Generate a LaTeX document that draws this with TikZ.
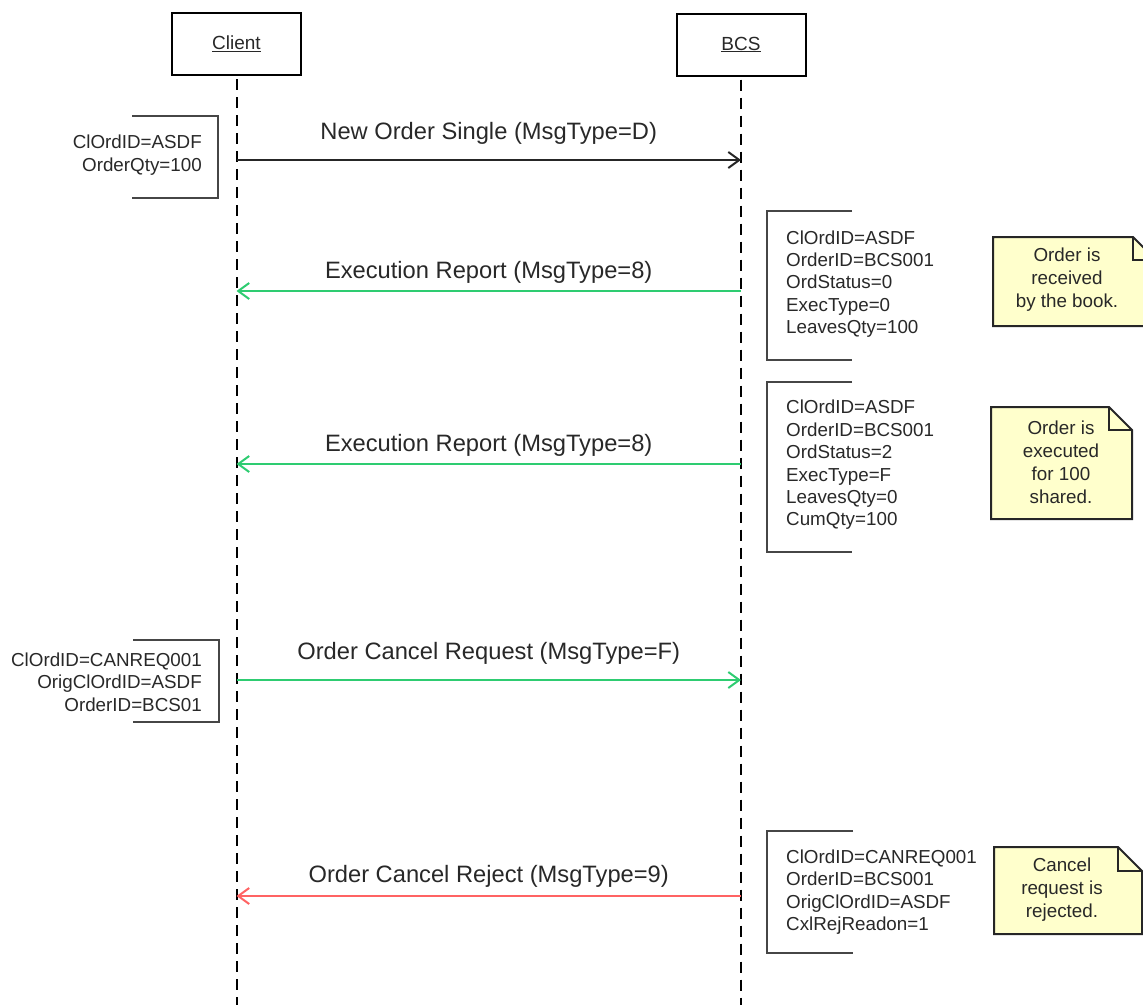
\documentclass[tikz,border=0pt]{standalone}
\usepackage{fontspec}
\setmainfont{Liberation Sans}
\usetikzlibrary{arrows.meta}
\definecolor{msggreen}{RGB}{46,204,113}
\definecolor{msgred}{RGB}{255,99,99}
\definecolor{notefill}{RGB}{255,255,204}
\definecolor{txt}{RGB}{40,40,40}
\definecolor{brk}{RGB}{70,70,70}
\begin{document}
\begin{tikzpicture}[x=1pt,y=-1pt,
 actor/.style={draw=black,line width=2pt,minimum width=129pt,minimum height=62pt,inner sep=0pt,font=\fontsize{19}{22}\selectfont,text=txt},
 life/.style={line width=2pt,dash pattern=on 11pt off 7pt},
 msgtext/.style={anchor=base,font=\fontsize{23.7}{28}\selectfont,text=txt,inner sep=0pt},
 msg/.style={line width=2pt,-{Straight Barb[length=11pt,width=16pt,line width=2pt]}},
 info/.style={font=\fontsize{18.8}{22.4}\selectfont,text=txt,inner sep=0pt},
 brack/.style={draw=brk,line width=2pt,line join=miter},
 notebox/.style={draw=black!85,line width=2pt,fill=notefill,line join=miter},
 notetxt/.style={font=\fontsize{18.8}{23}\selectfont,align=center,text=txt,inner sep=0pt}
]
\useasboundingbox (0,0) rectangle (1143,1005);
% actors
\node[actor] (client) at (236.5,44) {\underline{Client}};
\node[actor] (bcs) at (741,44.5) {\underline{BCS}};
\coordinate (cend) at (236.5,1005);
\coordinate (bend) at (741,1005);
\draw[life] ([yshift=-3pt]client.south) -- (cend);
\draw[life] ([yshift=-3pt]bcs.south) -- (bend);
% message anchors
\coordinate (c1) at (236.5,160); \coordinate (b1) at (741,160);
\coordinate (c2) at (236.5,291); \coordinate (b2) at (741,291);
\coordinate (c3) at (236.5,464); \coordinate (b3) at (741,464);
\coordinate (c4) at (236.5,680); \coordinate (b4) at (741,680);
\coordinate (c5) at (236.5,896); \coordinate (b5) at (741,896);
% messages
\draw[msg,black!85] (c1) -- (b1);
\node[msgtext] (m1) at (488.7,139) {New Order Single (MsgType=D)};
\draw[msg,msggreen] (b2) -- (c2);
\node[msgtext] (m2) at (488.7,278) {Execution Report (MsgType=8)};
\draw[msg,msggreen] (b3) -- (c3);
\node[msgtext] (m3) at (488.7,451) {Execution Report (MsgType=8)};
\draw[msg,msggreen] (c4) -- (b4);
\node[msgtext] (m4) at (488.7,659) {Order Cancel Request (MsgType=F)};
\draw[msg,msgred] (b5) -- (c5);
\node[msgtext] (m5) at (488.7,882) {Order Cancel Reject (MsgType=9)};
% brackets with field lists
\draw[brack] (132,116) -- (218,116) -- (218,198) -- (132,198);
\node[info,anchor=east,align=right] (i1) at (202,155) {ClOrdID=ASDF\\OrderQty=100};
\draw[brack] (852,211) -- (767,211) -- (767,360) -- (852,360);
\node[info,anchor=west,align=left] (i2) at (786,284) {ClOrdID=ASDF\\OrderID=BCS001\\OrdStatus=0\\ExecType=0\\LeavesQty=100};
\draw[brack] (852,382) -- (767,382) -- (767,552) -- (852,552);
\node[info,anchor=west,align=left] (i3) at (786,465) {ClOrdID=ASDF\\OrderID=BCS001\\OrdStatus=2\\ExecType=F\\LeavesQty=0\\CumQty=100};
\draw[brack] (133,640) -- (219,640) -- (219,722) -- (133,722);
\node[info,anchor=east,align=right] (i4) at (202,682) {ClOrdID=CANREQ001\\OrigClOrdID=ASDF\\OrderID=BCS01};
\draw[brack] (853,831) -- (767,831) -- (767,953) -- (853,953);
\node[info,anchor=west,align=left] (i5) at (786,892) {ClOrdID=CANREQ001\\OrderID=BCS001\\OrigClOrdID=ASDF\\CxlRejReadon=1};
% notes
\draw[notebox] (993,237) -- (1133,237) -- (1156,260) -- (1156,326) -- (993,326) -- cycle;
\draw[line width=2pt,black!85] (1133,237) -- (1133,260) -- (1156,260);
\node[notetxt] (n1) at (1067,280) {Order is\\received\\by the book.};
\draw[notebox] (991,407) -- (1109,407) -- (1132,430) -- (1132,519) -- (991,519) -- cycle;
\draw[line width=2pt,black!85] (1109,407) -- (1109,430) -- (1132,430);
\node[notetxt] (n2) at (1061,462) {Order is\\executed\\for 100\\shared.};
\draw[notebox] (994,847) -- (1118,847) -- (1142,871) -- (1142,934) -- (994,934) -- cycle;
\draw[line width=2pt,black!85] (1118,847) -- (1118,871) -- (1142,871);
\node[notetxt] (n3) at (1062,890) {Cancel\\request is\\rejected.};
\end{tikzpicture}
\end{document}
